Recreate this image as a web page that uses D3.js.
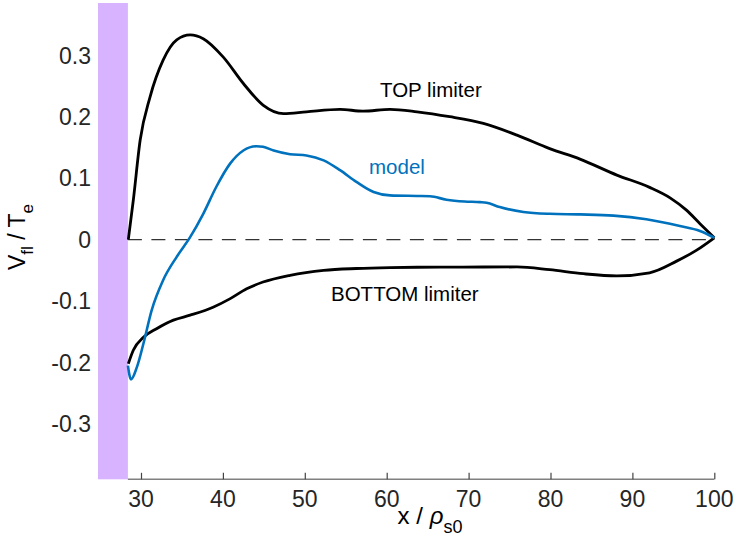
<!DOCTYPE html>
<html>
<head>
<meta charset="utf-8">
<script src="https://cdn.jsdelivr.net/npm/d3@7"></script>
<style>
    body { margin: 0; background: #fff; }
    text { font-family: "Liberation Sans", Arial, Helvetica, sans-serif; }
</style>
</head>
<body>
<div id="chart"></div>
<script>
// values
var xTicks = [30, 40, 50, 60, 70, 80, 90, 100];
var yTicks = [-0.3, -0.2, -0.1, 0, 0.1, 0.2, 0.3];
var wallEdge = 28.4;

var topX = [28.45, 29.06, 29.9, 31.1, 32.7, 34.36, 36, 37.6, 40.05, 42.5, 44.9, 47.4, 50.2, 54.3, 57.1, 60.4, 63.7, 67.7, 71.8, 75.9, 79.9, 83.6, 88.1, 92.1, 94.6, 96.6, 98.25, 100];
var topV = [0, 0.064, 0.162, 0.232, 0.292, 0.325, 0.333, 0.327, 0.297, 0.254, 0.219, 0.205, 0.208, 0.212, 0.209, 0.212, 0.208, 0.2, 0.189, 0.17, 0.148, 0.131, 0.105, 0.085, 0.068, 0.048, 0.026, 0.003];

var modelX = [28.4, 28.78, 29.5, 30.3, 31.3, 32.7, 34.36, 36, 37.6, 39.2, 40.9, 42.5, 44.1, 44.9, 46.2, 48.2, 50.2, 52.3, 54.3, 56.3, 58.4, 60.4, 63.7, 65.3, 67.3, 69.5, 71.4, 72.2, 73.8, 76.7, 79.9, 83.6, 87.7, 91.7, 95.8, 98.25, 100];
var modelV = [-0.205, -0.2275, -0.2075, -0.169, -0.115, -0.066, -0.028, 0.004, 0.042, 0.086, 0.124, 0.145, 0.152, 0.151, 0.145, 0.139, 0.137, 0.129, 0.113, 0.094, 0.0775, 0.072, 0.071, 0.0705, 0.065, 0.062, 0.061, 0.06, 0.053, 0.045, 0.042, 0.041, 0.039, 0.033, 0.022, 0.014, 0.003];

var botX = [28.45, 29.06, 30.3, 31.9, 33.96, 36, 38.8, 40.9, 42.9, 44.9, 48.2, 52.3, 56.3, 60.4, 63.7, 67.7, 71.8, 75.9, 79.9, 84.0, 88.1, 92.1, 95.4, 97.8, 100];
var botV = [-0.202, -0.18, -0.159, -0.145, -0.131, -0.123, -0.11, -0.096, -0.08, -0.069, -0.058, -0.05, -0.047, -0.0455, -0.045, -0.0448, -0.0446, -0.0445, -0.049, -0.0555, -0.059, -0.054, -0.035, -0.0175, 0.003];

var width = 736, height = 545;

var svg = d3.select("#chart")
    .append("svg")
        .attr("width", width)
        .attr("height", height);

var x = d3.scaleLinear().domain([24.75, 100]).range([98, 714.3]);
var y = d3.scaleLinear().domain([-0.39, 0.385]).range([479.3, 3]);

// shaded wall region
svg.append("rect")
    .attr("x", x(24.75))
    .attr("y", y(0.385))
    .attr("width", x(wallEdge) - x(24.75))
    .attr("height", y(-0.39) - y(0.385))
    .attr("fill", "#d8b3ff");

// x axis, ticks inside
var xAxis = svg.append("g")
    .attr("transform", "translate(0," + y(-0.39) + ")")
    .call(d3.axisTop(x).tickValues(xTicks).tickSize(6.5).tickSizeOuter(0).tickFormat(""));
xAxis.select(".domain").attr("stroke", "#808080").attr("stroke-width", 1.6)
    .attr("d", "M" + x(wallEdge) + ",0H" + x(100));
xAxis.selectAll(".tick line").attr("stroke", "#444").attr("stroke-width", 1.2);

svg.append("g").selectAll("text")
    .data(xTicks)
    .enter()
    .append("text")
    .attr("x", function(d) { return x(d); })
    .attr("y", 507)
    .attr("text-anchor", "middle")
    .attr("font-size", 23)
    .attr("fill", "#262626")
    .text(function(d) { return d; });

svg.append("g").selectAll("text")
    .data(yTicks)
    .enter()
    .append("text")
    .attr("x", 91)
    .attr("y", function(d) { return y(d); })
    .attr("dy", "0.36em")
    .attr("text-anchor", "end")
    .attr("font-size", 23)
    .attr("fill", "#262626")
    .text(function(d) { return d === 0 ? "0" : String(d).replace("\u2212", "-"); });

// zero line
svg.append("line")
    .attr("x1", x(wallEdge)).attr("x2", x(100))
    .attr("y1", y(0)).attr("y2", y(0))
    .attr("stroke", "#333")
    .attr("stroke-width", 1.3)
    .attr("stroke-dasharray", "14,9.5");

var line = d3.line()
    .x(function(d) { return x(d[0]); })
    .y(function(d) { return y(d[1]); })
    .curve(d3.curveMonotoneX);

function pairs(xs, vs) { return xs.map(function(v, i) { return [v, vs[i]]; }); }

svg.append("path").datum(pairs(topX, topV))
    .attr("d", line).attr("fill", "none").attr("stroke", "#000").attr("stroke-width", 2.8);
svg.append("path").datum(pairs(botX, botV))
    .attr("d", line).attr("fill", "none").attr("stroke", "#000").attr("stroke-width", 2.8);
svg.append("path").datum(pairs(modelX, modelV))
    .attr("d", line).attr("fill", "none").attr("stroke", "#0072bd").attr("stroke-width", 2.6);

// annotations
svg.append("text").attr("x", 380).attr("y", 97).attr("font-size", 20.5).attr("fill", "#000").text("TOP limiter");
svg.append("text").attr("x", 369).attr("y", 174).attr("font-size", 20.5).attr("fill", "#0072bd").text("model");
svg.append("text").attr("x", 331).attr("y", 300.5).attr("font-size", 20.5).attr("fill", "#000").text("BOTTOM limiter");

// axis labels
var xl = svg.append("text").attr("x", 430).attr("y", 523.5).attr("text-anchor", "middle")
    .attr("font-size", 24).attr("fill", "#000");
xl.append("tspan").text("x / ");
xl.append("tspan").attr("font-style", "italic").text("\u03c1");
xl.append("tspan").attr("font-size", 18).attr("dy", 9).text("s0");

var yl = svg.append("text").attr("transform", "translate(25,237) rotate(-90)")
    .attr("text-anchor", "middle").attr("font-size", 23).attr("fill", "#000");
yl.append("tspan").text("V");
yl.append("tspan").attr("font-size", 17).attr("dy", 8).text("fl");
yl.append("tspan").attr("dy", -8).text(" / T");
yl.append("tspan").attr("font-size", 17).attr("dy", 8).text("e");
</script>
</body>
</html>
